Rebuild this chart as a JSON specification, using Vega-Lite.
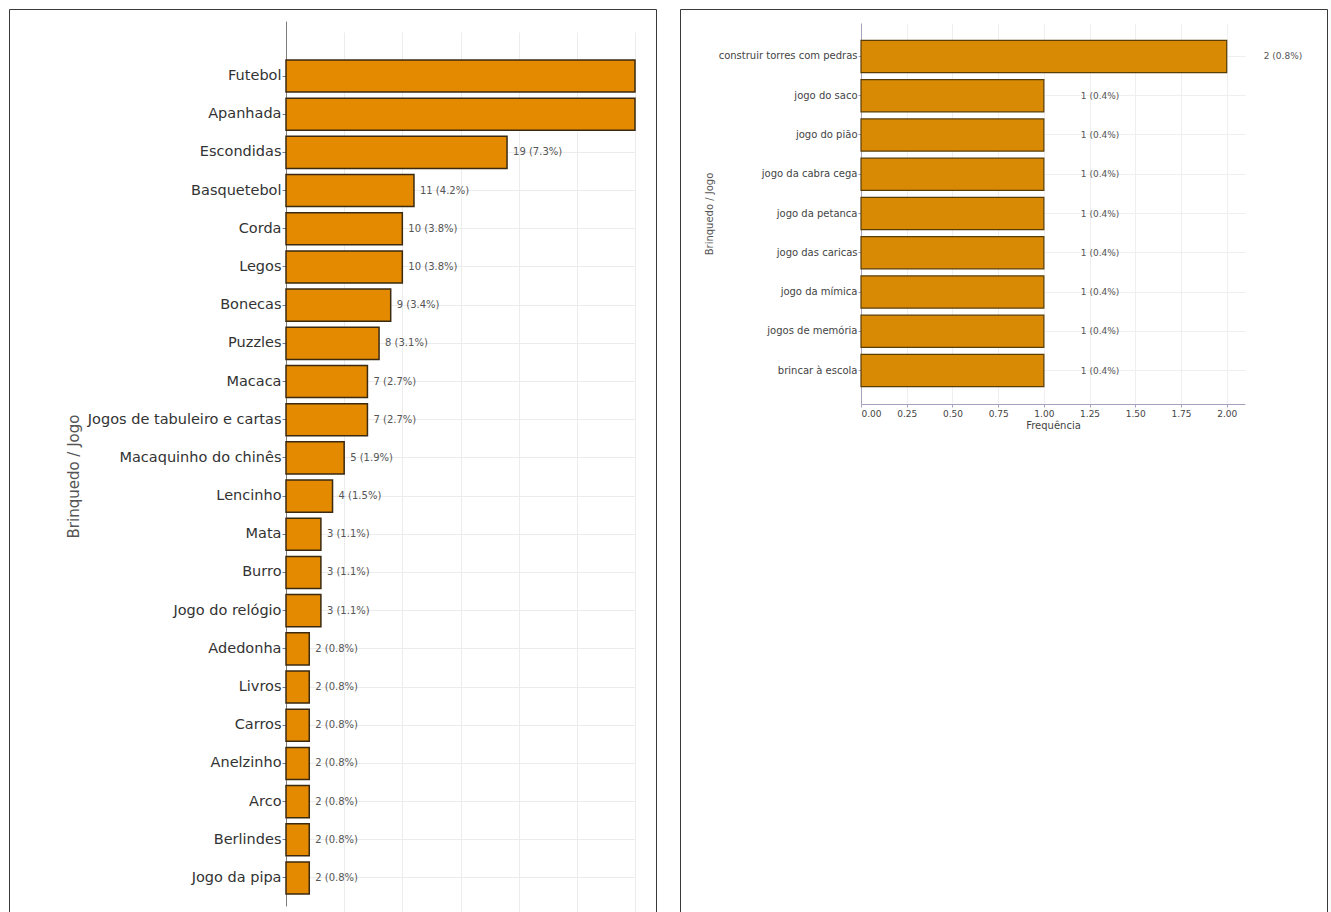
{
  "$schema": "https://vega.github.io/schema/vega-lite/v6.json",
  "padding": {"left": 8, "top": 8, "right": 0, "bottom": 0},
  "autosize": {"type": "pad"},
  "background": "white",
  "spacing": 24,
  "bounds": "flush",
  "config": {
    "font": "DejaVu Sans",
    "axis": {"labelFont": "DejaVu Sans", "titleFont": "DejaVu Sans", "titleFontWeight": "normal"}
  },
  "datasets": {
    "toys": [
      {"item": "Futebol", "n": 48, "label": "48 (18.3%)"},
      {"item": "Apanhada", "n": 38, "label": "38 (14.5%)"},
      {"item": "Escondidas", "n": 19, "label": "19 (7.3%)"},
      {"item": "Basquetebol", "n": 11, "label": "11 (4.2%)"},
      {"item": "Corda", "n": 10, "label": "10 (3.8%)"},
      {"item": "Legos", "n": 10, "label": "10 (3.8%)"},
      {"item": "Bonecas", "n": 9, "label": "9 (3.4%)"},
      {"item": "Puzzles", "n": 8, "label": "8 (3.1%)"},
      {"item": "Macaca", "n": 7, "label": "7 (2.7%)"},
      {"item": "Jogos de tabuleiro e cartas", "n": 7, "label": "7 (2.7%)"},
      {"item": "Macaquinho do chinês", "n": 5, "label": "5 (1.9%)"},
      {"item": "Lencinho", "n": 4, "label": "4 (1.5%)"},
      {"item": "Mata", "n": 3, "label": "3 (1.1%)"},
      {"item": "Burro", "n": 3, "label": "3 (1.1%)"},
      {"item": "Jogo do relógio", "n": 3, "label": "3 (1.1%)"},
      {"item": "Adedonha", "n": 2, "label": "2 (0.8%)"},
      {"item": "Livros", "n": 2, "label": "2 (0.8%)"},
      {"item": "Carros", "n": 2, "label": "2 (0.8%)"},
      {"item": "Anelzinho", "n": 2, "label": "2 (0.8%)"},
      {"item": "Arco", "n": 2, "label": "2 (0.8%)"},
      {"item": "Berlindes", "n": 2, "label": "2 (0.8%)"},
      {"item": "Jogo da pipa", "n": 2, "label": "2 (0.8%)"}
    ],
    "rare": [
      {"item": "construir torres com pedras", "n": 2, "label": "2 (0.8%)"},
      {"item": "jogo do saco", "n": 1, "label": "1 (0.4%)"},
      {"item": "jogo do pião", "n": 1, "label": "1 (0.4%)"},
      {"item": "jogo da cabra cega", "n": 1, "label": "1 (0.4%)"},
      {"item": "jogo da petanca", "n": 1, "label": "1 (0.4%)"},
      {"item": "jogo das caricas", "n": 1, "label": "1 (0.4%)"},
      {"item": "jogo da mímica", "n": 1, "label": "1 (0.4%)"},
      {"item": "jogos de memória", "n": 1, "label": "1 (0.4%)"},
      {"item": "brincar à escola", "n": 1, "label": "1 (0.4%)"}
    ]
  },
  "hconcat": [
    {
      "width": 647,
      "height": 920,
      "view": {"stroke": "#3a3a3a", "strokeWidth": 1, "fill": "white"},
      "data": {"name": "toys"},
      "encoding": {
        "y": {
          "field": "item",
          "type": "nominal",
          "sort": null,
          "scale": {"range": [12, 897], "paddingInner": 0.16, "paddingOuter": 0.667, "align": 0.765},
          "axis": {
            "title": "Brinquedo / Jogo",
            "offset": -277,
            "domainColor": "#7d7d7d",
            "tickColor": "#6f7f9a",
            "tickSize": 4,
            "labelPadding": 1,
            "labelFontSize": 14.5,
            "labelColor": "#333333",
            "labelLimit": 400,
            "titleFontSize": 15,
            "titleColor": "#555555",
            "titlePadding": 6,
            "titleY": 467,
            "grid": true,
            "gridColor": "#ececec"
          }
        }
      },
      "layer": [
        {
          "mark": {"type": "bar", "fill": "#E38A00", "stroke": "#3b2a10", "strokeWidth": 1.5},
          "encoding": {
            "x": {
              "field": "n",
              "type": "quantitative",
              "scale": {"domain": [0, 30], "range": [277, 626], "clamp": true, "nice": false},
              "axis": {
                "values": [5, 10, 15, 20, 25, 30],
                "labels": false,
                "ticks": false,
                "domain": false,
                "title": null,
                "grid": true,
                "gridColor": "#ececec"
              }
            }
          }
        },
        {
          "transform": [{"filter": "datum.n <= 30"}],
          "mark": {"type": "text", "align": "left", "baseline": "middle", "dx": 6, "fontSize": 10, "color": "#555555"},
          "encoding": {
            "x": {"field": "n", "type": "quantitative"},
            "text": {"field": "label"}
          }
        }
      ]
    },
    {
      "width": 647,
      "height": 920,
      "view": {"stroke": "#3a3a3a", "strokeWidth": 1, "fill": "white"},
      "data": {"name": "rare"},
      "encoding": {
        "y": {
          "field": "item",
          "type": "nominal",
          "sort": null,
          "scale": {"range": [14, 395], "paddingInner": 0.18, "paddingOuter": 0.443},
          "axis": {
            "title": "Brinquedo / Jogo",
            "offset": -181,
            "domainColor": "#a4a2bf",
            "tickColor": "#a4a2bf",
            "tickSize": 3,
            "labelPadding": 1,
            "labelFontSize": 10,
            "labelColor": "#444444",
            "labelLimit": 300,
            "titleFontSize": 10,
            "titleColor": "#555555",
            "titlePadding": 4,
            "grid": true,
            "gridColor": "#efefef"
          }
        }
      },
      "resolve": {"axis": {"x": "independent"}},
      "layer": [
        {
          "mark": {"type": "bar", "fill": "#D98A05", "stroke": "#5a3c05", "strokeWidth": 1.2},
          "encoding": {
            "x": {
              "field": "n",
              "type": "quantitative",
              "scale": {"domain": [0, 2.1], "range": [181, 565], "nice": false},
              "axis": {
                "orient": "top",
                "values": [0, 0.25, 0.5, 0.75, 1, 1.25, 1.5, 1.75, 2],
                "labels": false,
                "ticks": false,
                "domain": false,
                "title": null,
                "grid": true,
                "gridColor": "#efefef"
              }
            }
          }
        },
        {
          "mark": {"type": "text", "align": "left", "baseline": "middle", "dx": 37, "fontSize": 9, "color": "#555555"},
          "encoding": {
            "x": {
              "field": "n",
              "type": "quantitative",
              "axis": {
                "orient": "bottom",
                "offset": -525,
                "values": [0, 0.25, 0.5, 0.75, 1, 1.25, 1.5, 1.75, 2],
                "format": ".2f",
                "title": "Frequência",
                "domainColor": "#a4a2bf",
                "tickColor": "#a4a2bf",
                "tickSize": 3,
                "labelPadding": 2,
                "labelFontSize": 9,
                "labelColor": "#444444",
                "titleFontSize": 10,
                "titleColor": "#444444",
                "titlePadding": 2,
                "grid": false
              }
            },
            "text": {"field": "label"}
          }
        }
      ]
    }
  ]
}
